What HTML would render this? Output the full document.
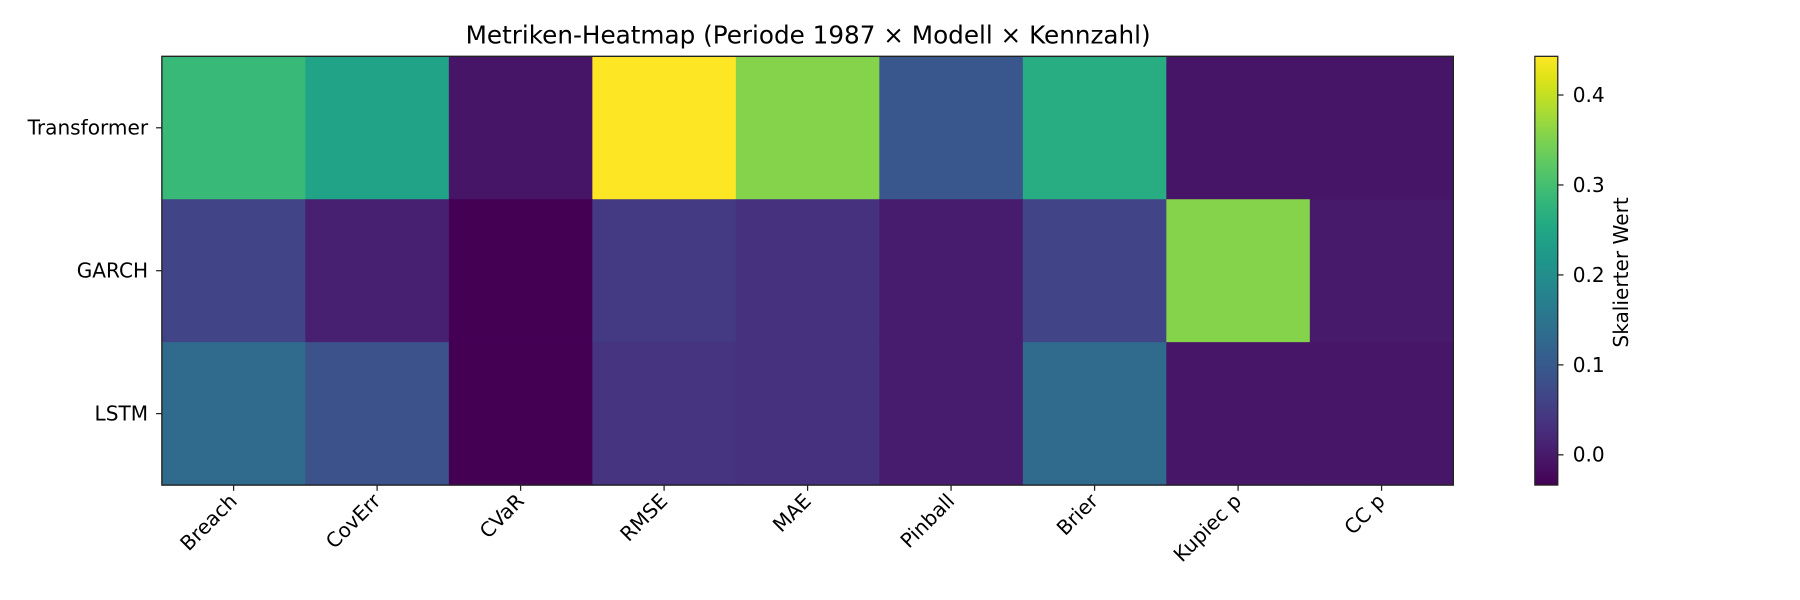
<!DOCTYPE html>
<html><head><meta charset="utf-8"><style>
html,body{margin:0;padding:0;background:#fff;}
svg{display:block;font-family:"DejaVu Sans","Liberation Sans",sans-serif;}
</style></head><body>
<svg id="chart" width="1800" height="600" viewBox="0 0 1568 522" preserveAspectRatio="none">
<defs><linearGradient id="cbgrad" x1="0" y1="1" x2="0" y2="0"></linearGradient></defs>
<text x="704" y="38" font-size="21.5" text-anchor="middle" fill="#000">Metriken-Heatmap (Periode 1987 × Modell × Kennzahl)</text>
<g id="cells"></g>
<g id="xaxis"></g>
<g id="yaxis"></g>
<rect x="141" y="49" width="1125" height="373" fill="none" stroke="#222" stroke-width="1.2"/>
<g id="cbar"></g>
<text transform="translate(1418,237) rotate(-90)" font-size="17.5" text-anchor="middle" fill="#000">Skalierter Wert</text>
</svg>
<script>
const models = ["Transformer","GARCH","LSTM"];
const metrics = ["Breach","CovErr","CVaR","RMSE","MAE","Pinball","Brier","Kupiec p","CC p"];
const rowTransformer = [0.286,0.243,-0.007,0.443,0.355,0.095,0.262,-0.007,-0.007];
const rowGARCH = [0.062,0.009,-0.0336,0.047,0.033,0.002,0.062,0.355,0.000];
const rowLSTM = [0.131,0.086,-0.033,0.038,0.033,0.002,0.131,-0.005,-0.005];
const cbTicks = [0.0,0.1,0.2,0.3,0.4];
const vmin = -0.0336, vmax = 0.443;

const NS="http://www.w3.org/2000/svg";
const L=141,T=49,R=1266,B=422;
const viridis=["#440154","#471365","#482475","#463480","#414487","#3b528b","#355f8d","#2f6c8e","#2a788e","#25848e","#21918c","#1e9c89","#22a884","#2fb47c","#44bf70","#5ec962","#7ad151","#9bd93c","#bddf26","#dfe318","#fde725"];
function hex(h){return [1,3,5].map(i=>parseInt(h.substr(i,2),16));}
function cmap(v){let t=(v-vmin)/(vmax-vmin);t=Math.max(0,Math.min(1,t));const p=t*20,i=Math.min(19,Math.floor(p)),f=p-i;const a=hex(viridis[i]),b=hex(viridis[i+1]);return 'rgb('+a.map((x,k)=>Math.round(x+(b[k]-x)*f)).join(',')+')';}
const cw=(R-L)/metrics.length, ch=(B-T)/models.length;
const xS=i=>L+cw*(i+0.5), yS=j=>T+ch*(j+0.5);
const cbY=v=>B-(v-vmin)/(vmax-vmin)*(B-T);
function mk(tag,attrs,parent){const e=document.createElementNS(NS,tag);for(const k in attrs)e.setAttribute(k,attrs[k]);parent.appendChild(e);return e;}
const rows=[rowTransformer,rowGARCH,rowLSTM];
const cells=document.getElementById('cells');
rows.forEach((row,j)=>row.forEach((v,i)=>{
  const r=mk('rect',{x:L+cw*i,y:T+ch*j,width:cw+0.5,height:ch+0.5,fill:cmap(v)},cells);
  
  
}));
const xa=document.getElementById('xaxis');
metrics.forEach((m,i)=>{
  const x=xS(i);
  const tk=mk('line',{x1:x,y1:B,x2:x,y2:B+5,stroke:'#222','stroke-width':1.1},xa);
  
  
  const t=mk('text',{transform:'translate('+(x+4)+','+(B+15)+') rotate(-45)','text-anchor':'end','font-size':17.5,fill:'#000'},xa);
  t.textContent=m;
  
  
});
const ya=document.getElementById('yaxis');
models.forEach((m,j)=>{
  const y=yS(j);
  const tk=mk('line',{x1:L-5,y1:y,x2:L,y2:y,stroke:'#222','stroke-width':1.1},ya);
  
  
  const t=mk('text',{x:L-12,y:y+6,'text-anchor':'end','font-size':17.5,fill:'#000'},ya);
  t.textContent=m;
  
  
});
const g=document.getElementById('cbgrad');
viridis.forEach((c,i)=>mk('stop',{offset:(i/20*100)+'%','stop-color':c},g));
const cb=document.getElementById('cbar');
const cbr=mk('rect',{x:1337,y:T,width:20,height:B-T,fill:'url(#cbgrad)',stroke:'#222','stroke-width':1.1},cb);


cbTicks.forEach(v=>{
  const y=cbY(v);
  const tk=mk('line',{x1:1357,y1:y,x2:1362,y2:y,stroke:'#222','stroke-width':1.1},cb);
  
  
  const t=mk('text',{x:1370,y:y+6,'font-size':17.5,fill:'#000'},cb);
  t.textContent=v.toFixed(1);
  
  
});
</script>
</body></html>
